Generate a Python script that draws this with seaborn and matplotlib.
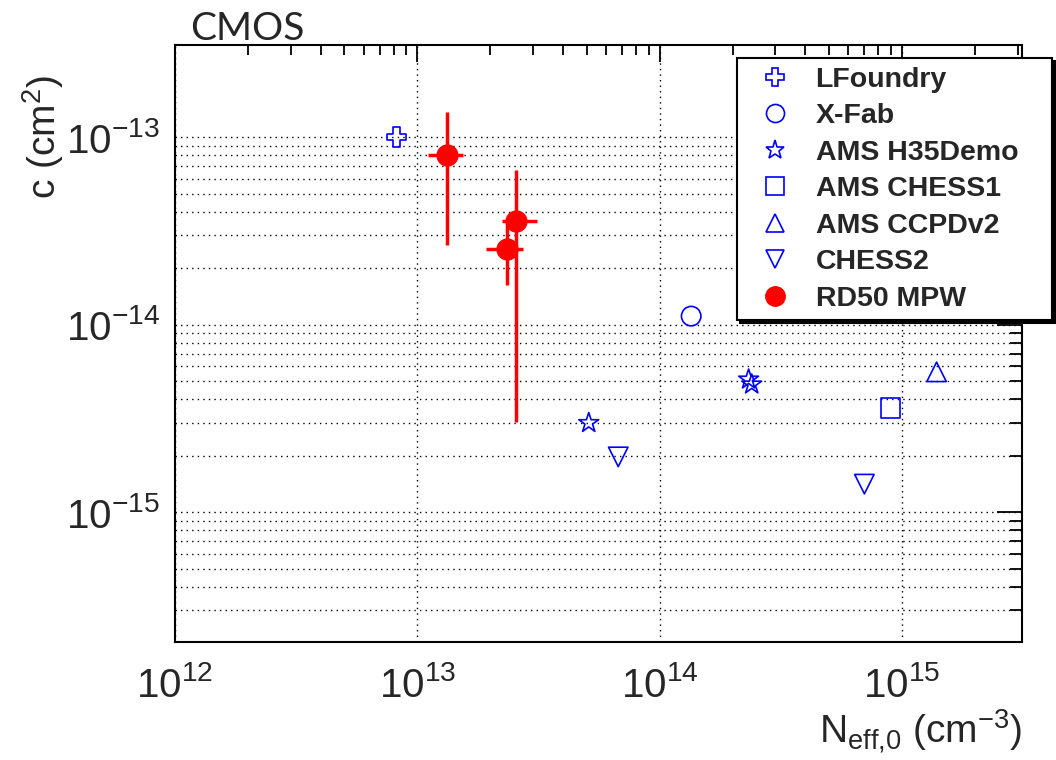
import matplotlib
matplotlib.use('Agg')
import matplotlib.pyplot as plt
import seaborn as sns
import numpy as np
import pandas as pd
from matplotlib.lines import Line2D
from matplotlib.ticker import FixedLocator, LogLocator, NullFormatter

# ---------------- data ----------------
lf_x = [8.2e12]
lf_y = [1.0e-13]
xf_x = [1.35e14]
xf_y = [1.11e-14]
h35_x = [5.1e13, 2.33e14, 2.40e14]
h35_y = [2.99e-15, 5.1e-15, 4.8e-15]
chess1_x = [8.95e14]
chess1_y = [3.6e-15]
ccpd_x = [1.39e15]
ccpd_y = [5.6e-15]
chess2_x = [6.75e13, 7.0e14]
chess2_y = [1.97e-15, 1.41e-15]
rd50_x = [1.33e13, 2.35e13, 2.56e13]
rd50_y = [8.0e-14, 2.53e-14, 3.57e-14]
rd50_xlo = [1.11e13, 1.93e13, 2.24e13]
rd50_xhi = [1.54e13, 2.72e13, 3.13e13]
rd50_ylo = [2.65e-14, 1.63e-14, 3.02e-15]
rd50_yhi = [1.36e-13, 3.43e-14, 6.67e-14]

labels = ["LFoundry", "X-Fab", "AMS H35Demo", "AMS CHESS1", "AMS CCPDv2", "CHESS2", "RD50 MPW"]
markers = ["P", "o", "*", "s", "^", "v"]
groups = [(lf_x, lf_y), (xf_x, xf_y), (h35_x, h35_y), (chess1_x, chess1_y),
          (ccpd_x, ccpd_y), (chess2_x, chess2_y)]

# ---------------- style ----------------
sns.set_theme(style='white')
plt.rcParams['font.family'] = ['Liberation Sans', 'DejaVu Sans']
plt.rcParams['mathtext.fontset'] = 'custom'
plt.rcParams['mathtext.rm'] = 'Liberation Sans'
plt.rcParams['mathtext.it'] = 'Liberation Sans'
plt.rcParams['mathtext.sf'] = 'Liberation Sans'
plt.rcParams['mathtext.default'] = 'regular'

fig = plt.figure(figsize=(10.56, 7.6), dpi=100)
ax = fig.add_axes([0.1657, 0.1553, 0.8021, 0.7855])
ax.set_xscale('log')
ax.set_yscale('log')

blue = '#0000ff'
sizes = [14, 14, 15, 14, 14, 14]
for (gx, gy), m, lab, ms in zip(groups, markers, labels, sizes):
    df = pd.DataFrame({'x': gx, 'y': gy})
    sns.scatterplot(data=df, x='x', y='y', marker=m, s=ms ** 2, facecolor='none',
                    edgecolor=blue, linewidth=1.2, ax=ax, zorder=5, legend=False)

xerr = [np.array(rd50_x) - np.array(rd50_xlo), np.array(rd50_xhi) - np.array(rd50_x)]
yerr = [np.array(rd50_y) - np.array(rd50_ylo), np.array(rd50_yhi) - np.array(rd50_y)]
ax.errorbar(rd50_x, rd50_y, xerr=xerr, yerr=yerr, fmt='o', color='red', ms=15,
            elinewidth=2.5, capsize=0, zorder=6)

ax.set_xlim(1e12, 3.13e15)
ax.set_ylim(2.03e-16, 3.1e-13)

ax.xaxis.set_major_locator(LogLocator(base=10, numticks=10))
ax.xaxis.set_minor_locator(LogLocator(base=10, subs=np.arange(2, 10), numticks=20))
ax.xaxis.set_minor_formatter(NullFormatter())
ax.yaxis.set_major_locator(FixedLocator([1e-15, 1e-14, 1e-13]))
ax.yaxis.set_minor_locator(FixedLocator([k * 10.0 ** e for e in (-16, -15, -14) for k in range(2, 10)]))
ax.yaxis.set_minor_formatter(NullFormatter())

ax.tick_params(direction='in', top=True, right=True, which='both', color='black', width=1.3)
ax.tick_params(axis='x', which='major', length=12, pad=17, labelsize=29)
ax.tick_params(axis='x', which='minor', length=7)
ax.tick_params(axis='y', which='major', length=18, pad=11, labelsize=29)
ax.tick_params(axis='y', which='minor', length=9)

ax.grid(False)
ax.grid(axis='y', which='both', color='black', linestyle=(0, (1, 3)), linewidth=1.0)
ax.grid(axis='x', which='major', color='black', linestyle=(0, (1, 3)), linewidth=1.0)
ax.set_axisbelow(True)
for sp in ax.spines.values():
    sp.set_color('black')
    sp.set_linewidth(1.5)

ax.set_xlabel(r'N$_{\mathregular{eff{,}0}}$ (cm$^{\mathregular{-3}}$)', fontsize=28)
ax.xaxis.set_label_coords(1.0, -0.169)
ax.xaxis.label.set_horizontalalignment('right')
ax.xaxis.label.set_verticalalignment('baseline')
ax.set_ylabel(r'c (cm$^{\mathregular{2}}$)', fontsize=28)
ax.yaxis.set_label_coords(-0.129, 0.95)
ax.yaxis.label.set_horizontalalignment('right')
ax.yaxis.label.set_verticalalignment('bottom')

fig.text(190 / 1056, 1 - 40 / 760, 'CMOS', fontsize=28, family=['Lato', 'DejaVu Sans'],
         ha='left', va='baseline')

handles = [Line2D([], [], linestyle='none', marker=m, markersize=ms - 1,
                  markerfacecolor='none', markeredgecolor=blue, markeredgewidth=1.2)
           for m, ms in zip(markers, sizes)]
handles.append(Line2D([], [], linestyle='none', marker='o', markersize=14,
                      markerfacecolor='red', markeredgecolor='red'))
x0, y1 = 737 / 1056, 1 - 58 / 760
w, h = (1052 - 737) / 1056, (318 - 58) / 760
leg = fig.legend(handles, labels, loc='upper left', bbox_to_anchor=(x0, y1 - h, w, h),
                 mode='expand',
                 prop={'family': ['Liberation Sans', 'DejaVu Sans'], 'weight': 'bold', 'size': 20.5},
                 frameon=True, fancybox=False, shadow={'color': 'black', 'alpha': 1},
                 edgecolor='black', framealpha=1, borderpad=0.3, labelspacing=0.37,
                 handlelength=2.1, handletextpad=0.36, borderaxespad=0)
leg.get_frame().set_linewidth(1.5)

fig.savefig('out.png', dpi=100)
